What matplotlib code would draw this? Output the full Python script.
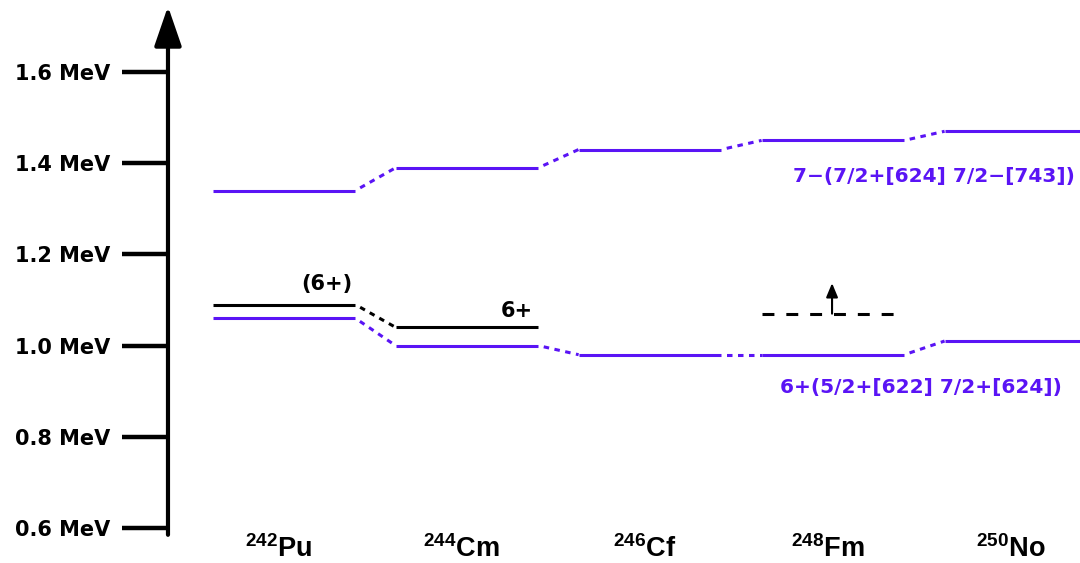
import matplotlib
matplotlib.use('Agg')
import matplotlib.pyplot as plt

# Isotones and their level energies (MeV)
nuclei = ['Pu', 'Cm', 'Cf', 'Fm', 'No']
mass_numbers = [242, 244, 246, 248, 250]
band_7minus = [1.34, 1.39, 1.43, 1.45, 1.47]
band_6plus = [1.06, 1.00, 0.98, 0.98, 1.01]
known_6plus = [1.09, 1.04]          # 242Pu (6+), 244Cm 6+
fm_limit = 1.07                      # 248Fm lower limit
fm_limit_arrow_to = 1.137
tick_values = [0.6, 0.8, 1.0, 1.2, 1.4, 1.6]
label_7minus = '7\u2212(7/2+[624] 7/2\u2212[743])'
label_6plus = '6+(5/2+[622] 7/2+[624])'

PURPLE = '#5a14f5'
HALF = 0.39
LW = 2.2

plt.rcParams['mathtext.fontset'] = 'custom'
plt.rcParams['mathtext.rm'] = 'Liberation Sans:bold'
plt.rcParams['mathtext.it'] = 'Liberation Sans:bold'
plt.rcParams['mathtext.bf'] = 'Liberation Sans:bold'

fig = plt.figure(figsize=(10.8, 5.63), dpi=100)
ax = fig.add_axes([0, 0, 1, 1])
ax.set_xlim(-1.552, 4.350)
ax.set_ylim(0.5232, 1.7579)
for s in ax.spines.values():
    s.set_visible(False)
axis_x = -0.634
ax.spines['left'].set_position(('data', axis_x))
ax.set_xticks([])
ax.set_yticks(tick_values)
ax.set_yticklabels([f'{v:.1f} MeV' for v in tick_values])
ax.tick_params(axis='y', direction='out', length=33, width=3.2, pad=8.6,
               labelsize=15)
for lab in ax.get_yticklabels():
    lab.set_fontweight('bold')
    lab.set_family('DejaVu Sans')

# energy axis with arrowhead
ax.annotate('', xy=(axis_x, 1.744), xytext=(axis_x, 0.585),
            arrowprops=dict(arrowstyle='-|>,head_length=1.22,head_width=0.42',
                            lw=3.0, color='black', mutation_scale=20,
                            shrinkA=0, shrinkB=0))


def band(values, color, n=None):
    n = len(values) if n is None else n
    for i in range(n):
        ax.plot([i - HALF, i + HALF], [values[i], values[i]], color=color,
                lw=LW, solid_capstyle='butt')
        if i + 1 < n:
            ax.plot([i + HALF, i + 1 - HALF], [values[i], values[i + 1]],
                    color=color, lw=LW, ls=(1.8, (1.8, 1.8)))


band(band_7minus, PURPLE)
band(band_6plus, PURPLE)
band(known_6plus, 'black')

# 248Fm lower limit
ax.plot([3 - HALF, 3 + HALF], [fm_limit, fm_limit], color='black', lw=LW,
        ls=(0, (3.9, 3.9)))
ax.annotate('', xy=(2.995, fm_limit_arrow_to), xytext=(2.995, fm_limit),
            arrowprops=dict(arrowstyle='-|>,head_length=0.6,head_width=0.25',
                            lw=1.5, color='black', mutation_scale=14,
                            shrinkA=0, shrinkB=0))

txt = dict(fontsize=15, fontweight='bold', family='DejaVu Sans')
ax.text(0.372, 1.135, '(6+)', ha='right', va='center', color='black', **txt)
ax.text(1.361, 1.076, '6+', ha='right', va='center', color='black', **txt)
ax.text(4.322, 1.370, label_7minus, ha='right', va='center', color=PURPLE,
        **{**txt, 'fontsize': 14.5})
ax.text(4.25, 0.907, label_6plus, ha='right', va='center', color=PURPLE,
        **{**txt, 'fontsize': 14.5})

for i, (a, el) in enumerate(zip(mass_numbers, nuclei)):
    ax.text(i - 0.03, 0.536, r'${}^{%d}\mathrm{%s}$' % (a, el), ha='center',
            va='baseline', fontsize=19.5, color='black')

fig.savefig('out.png', dpi=100)
